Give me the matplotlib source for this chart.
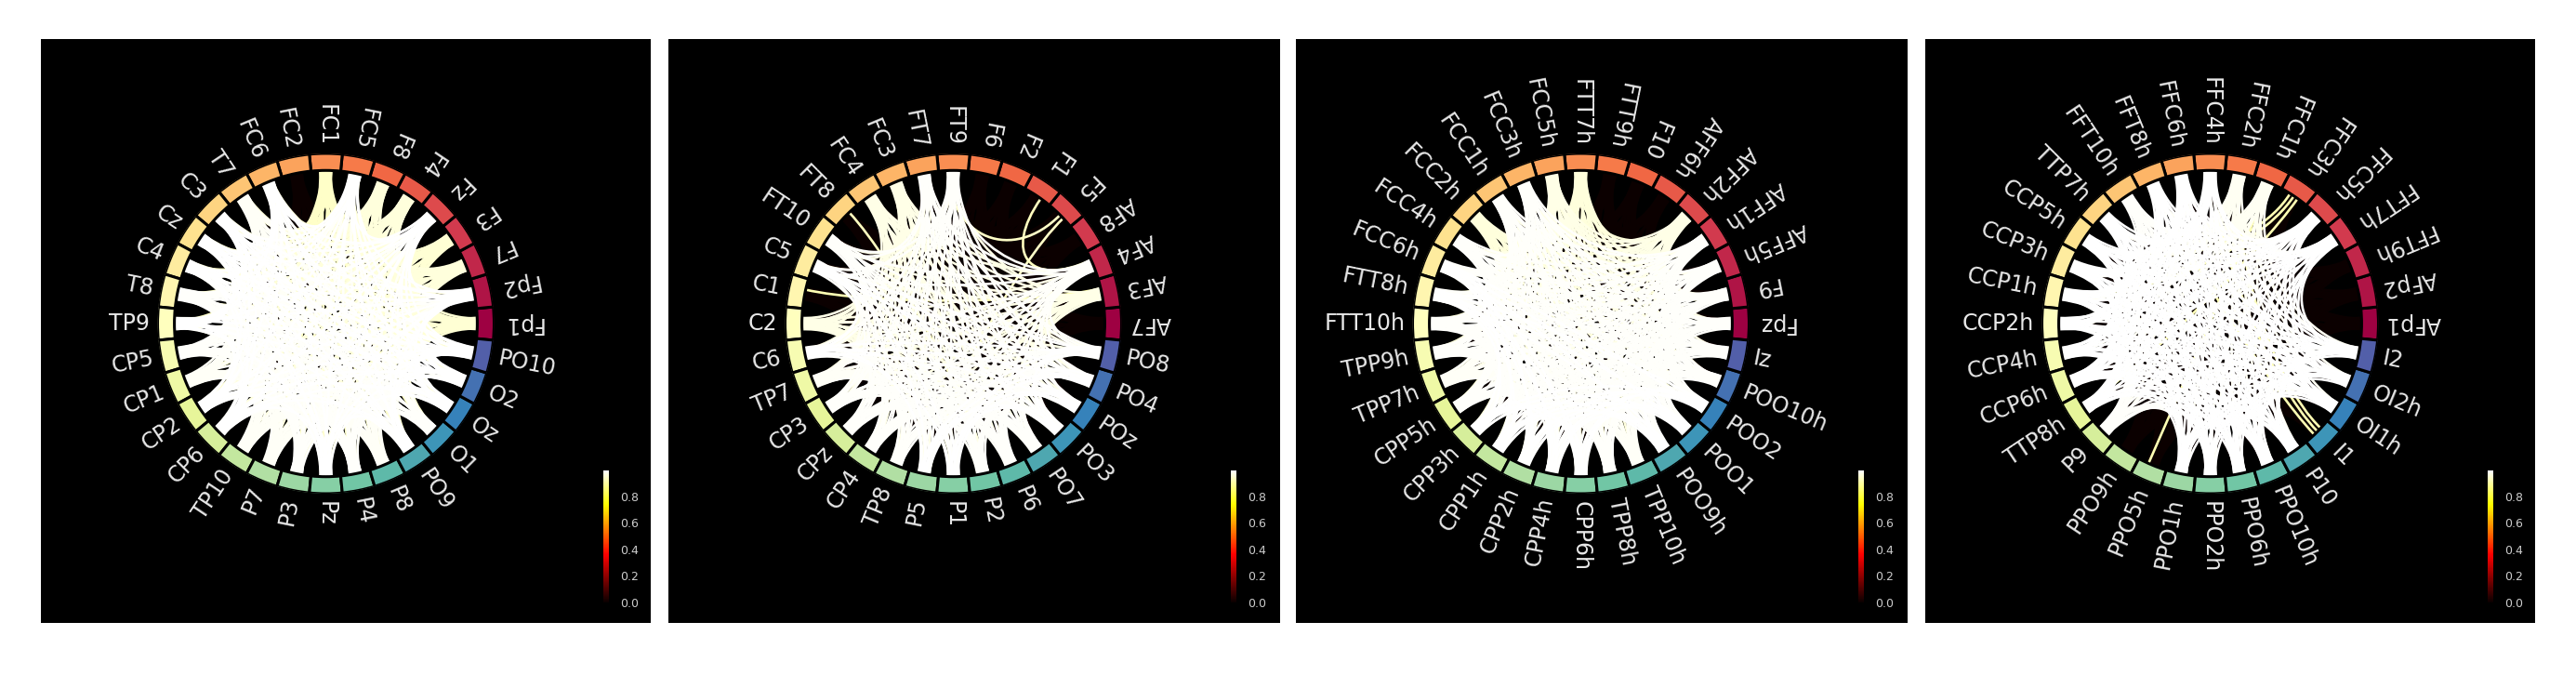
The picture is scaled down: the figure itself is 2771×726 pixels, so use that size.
import numpy as np
import matplotlib
matplotlib.use("Agg")
import matplotlib.pyplot as plt
from matplotlib.cm import ScalarMappable
from matplotlib.colors import Normalize
from matplotlib.patches import PathPatch
from matplotlib.path import Path

W, H = 2771, 726

# channel names, counter-clockwise from angle 0
names1 = ["Fp1", "Fp2", "F7", "F3", "Fz", "F4", "F8", "FC5", "FC1", "FC2", "FC6", "T7", "C3", "Cz", "C4", "T8",
          "TP9", "CP5", "CP1", "CP2", "CP6", "TP10", "P7", "P3", "Pz", "P4", "P8", "PO9", "O1", "Oz", "O2", "PO10"]
names2 = ["AF7", "AF3", "AF4", "AF8", "F5", "F1", "F2", "F6", "FT9", "FT7", "FC3", "FC4", "FT8", "FT10", "C5", "C1",
          "C2", "C6", "TP7", "CP3", "CPz", "CP4", "TP8", "P5", "P1", "P2", "P6", "PO7", "PO3", "POz", "PO4", "PO8"]
names3 = ["Fpz", "F9", "AFF5h", "AFF1h", "AFF2h", "AFF6h", "F10", "FTT9h", "FTT7h", "FCC5h", "FCC3h", "FCC1h",
          "FCC2h", "FCC4h", "FCC6h", "FTT8h", "FTT10h", "TPP9h", "TPP7h", "CPP5h", "CPP3h", "CPP1h", "CPP2h",
          "CPP4h", "CPP6h", "TPP8h", "TPP10h", "POO9h", "POO1", "POO2", "POO10h", "Iz"]
names4 = ["AFp1", "AFp2", "FFT9h", "FFT7h", "FFC5h", "FFC3h", "FFC1h", "FFC2h", "FFC4h", "FFC6h", "FFT8h", "FFT10h",
          "TTP7h", "CCP5h", "CCP3h", "CCP1h", "CCP2h", "CCP4h", "CCP6h", "TTP8h", "P9", "PPO9h", "PPO5h", "PPO1h",
          "PPO2h", "PPO6h", "PPO10h", "P10", "I1", "OI1h", "OI2h", "I2"]

# estimated strength of each node's links, same order as the names
# 0 means the node only has links with near zero value
strength1 = [.95, .995, .96, .95, .995, .96, .96, .995, .94, 0, .995, .985, .995, .995, .995, .99,
             .995, .99, .985, .995, .995, .985, .985, .99, .995, .99, .985, .995, .99, .995, .995, .995]
strength2 = [0, .97, .99, 0, 0, 0, 0, 0, .99, .99, .97, .97, 0, .99, .995, 0,
             .97, .995, .985, .99, .99, .99, .99, .995, .995, .99, .99, .99, .995, .995, .995, .995]
strength3 = [.99, .99, .99, .99, .97, 0, 0, 0, .96, .97, .99, .99, .96, .99, .995, .995,
             .99, .99, .985, .99, .995, .995, .995, .995, .995, .99, .985, .995, .995, .995, .99, .99]
strength4 = [0, 0, 0, .995, .995, 0, .98, .98, .995, .995, .995, .99, .995, .995, .995, .995,
             .995, .995, .995, .995, .99, 0, 0, .995, .995, .995, .995, .995, 0, .995, .995, .995]

# the few single pale links that start at otherwise empty nodes
thin1 = []
thin2 = [("F5", "FT9", .94), ("F5", "P5", .94), ("F1", "AF4", .93), ("FT8", "P2", .93), ("C1", "AF3", .92)]
thin3 = []
thin4 = [("FFC3h", "CCP5h", .92), ("FFC3h", "CCP1h", .92), ("FFC3h", "TTP8h", .92),
         ("I1", "FFC2h", .92), ("I1", "FFC4h", .92), ("I1", "FFT8h", .92), ("PPO5h", "FFC1h", .92)]

colorbar_ticks = [0.0, 0.2, 0.4, 0.6, 0.8]
vmax = 0.995

panel_left = [44, 719, 1394, 2071]
panel_right = [700, 1377, 2052, 2727]
panel_top, panel_bottom = 42, 670


def px_rect(x0, y0, x1, y1):
    return [x0 / W, 1 - y1 / H, (x1 - x0) / W, (y1 - y0) / H]


def draw_panel(fig, left, right, names, strength, thin):
    bg = fig.add_axes(px_rect(left, panel_top, right, panel_bottom))
    bg.set_facecolor("black")
    bg.set_xticks([])
    bg.set_yticks([])
    for s in bg.spines.values():
        s.set_visible(False)

    cx, cy = left + 306.5, 348
    rx, ry = 181, 183
    ax = fig.add_axes(px_rect(cx - rx, cy - ry, cx + rx, cy + ry), projection="polar")
    ax.set_aspect("auto")
    ax.patch.set_alpha(0)
    ax.grid(False)
    ax.set_xticks([])
    ax.set_yticks([])
    ax.spines["polar"].set_visible(False)

    n = len(names)
    width = 2 * np.pi / n
    angles = np.arange(n) * width
    index = {name: i for i, name in enumerate(names)}

    # all pairs, weakest first so that the strong ones end up on top
    links = []
    for i in range(n):
        for j in range(i + 1, n):
            links.append((min(strength[i], strength[j]), i, j))
    for a, b, v in thin:
        i, j = sorted((index[a], index[b]))
        links = [l for l in links if l[1:] != (i, j)]
        links.append((v, i, j))
    links.sort(key=lambda l: l[0])

    # spread of the ends of a fan over the node
    count = np.zeros(n)
    cmap = plt.get_cmap("hot")
    norm = Normalize(0, vmax)
    spread = 0.2 * width
    for v, i, j in links:
        count[i] += 1
        count[j] += 1
        ti = angles[i] + spread * (2 * ((count[i] * 0.618) % 1) - 1)
        tj = angles[j] + spread * (2 * ((count[j] * 0.618) % 1) - 1)
        verts = [(ti, 9), (ti, 5), (tj, 5), (tj, 9)]
        codes = [Path.MOVETO, Path.CURVE4, Path.CURVE4, Path.CURVE4]
        ax.add_patch(PathPatch(Path(verts, codes), fill=False, edgecolor=cmap(norm(v)), linewidth=1.9))

    node_colors = [plt.get_cmap("Spectral")(i / n) for i in range(n)]
    ax.bar(angles, np.ones(n), width=width, bottom=9, color=node_colors, edgecolor="black", linewidth=2.2, zorder=3)
    ax.set_ylim(0, 10)

    for name, angle in zip(names, angles):
        deg = np.degrees(angle)
        if deg >= 270:
            ha = "left"
        else:
            deg += 180
            ha = "right"
        ax.text(angle, 10.45, name, size=17, rotation=deg, rotation_mode="anchor",
                ha=ha, va="center", color="#e8e8e8")

    cax = fig.add_axes(px_rect(left + 605, 506, left + 611, 648))
    cb = fig.colorbar(ScalarMappable(norm=norm, cmap=cmap), cax=cax, ticks=colorbar_ticks)
    cb.outline.set_visible(False)
    cax.tick_params(length=0, pad=9, labelsize=9, labelcolor="#cccccc")


fig = plt.figure(figsize=(W / 100, H / 100), dpi=100, facecolor="white")
panels = [(names1, strength1, thin1), (names2, strength2, thin2), (names3, strength3, thin3), (names4, strength4, thin4)]
for k in range(4):
    draw_panel(fig, panel_left[k], panel_right[k], *panels[k])
fig.savefig("out.png", dpi=100, facecolor="white")
